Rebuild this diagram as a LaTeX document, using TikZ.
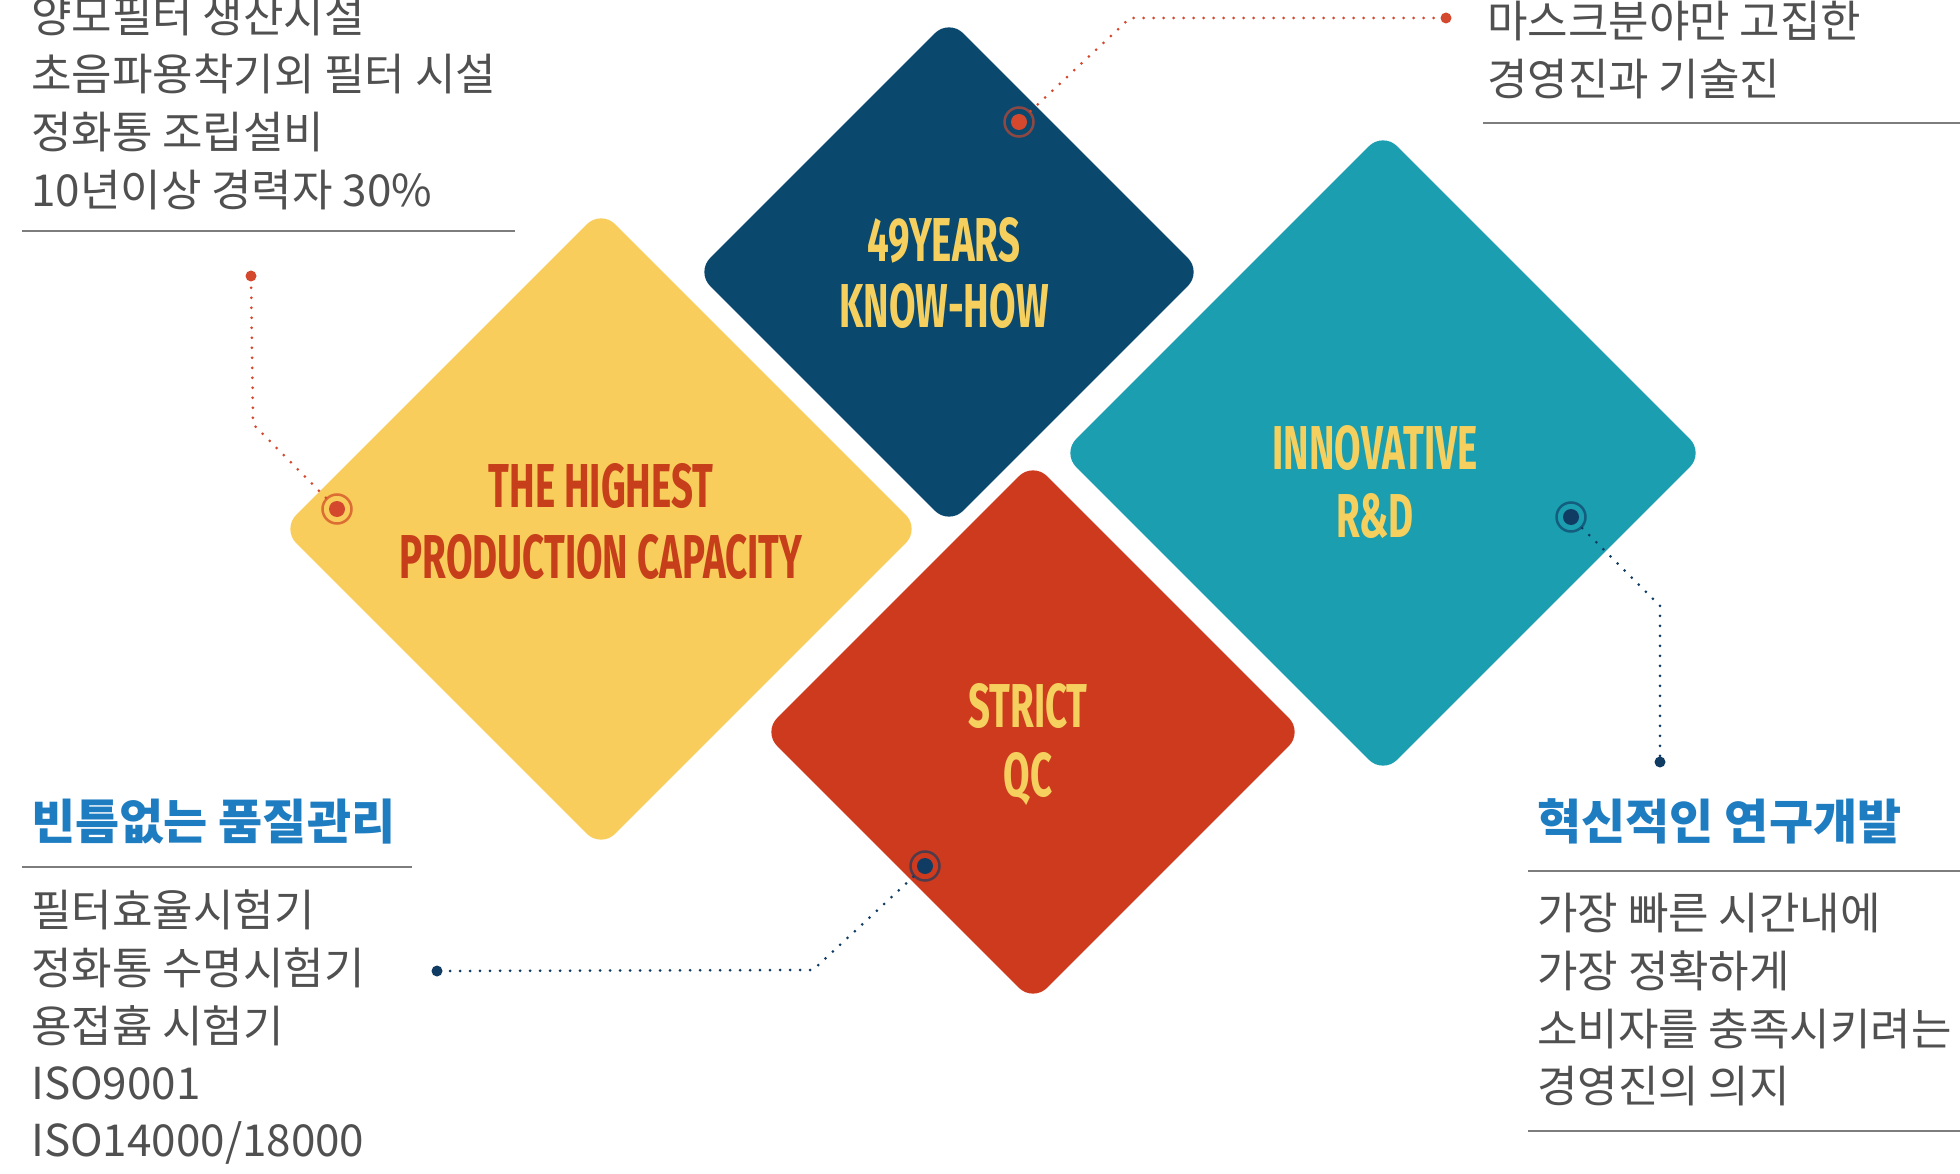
\documentclass[tikz,border=0pt]{standalone}
\usepackage{fontspec}
\usetikzlibrary{shapes.geometric}
\newfontfamily\kr{Noto Sans CJK KR}
\newfontfamily\disp[FakeStretch=0.62]{Fira Sans}
\definecolor{navy}{RGB}{11,72,110}
\definecolor{sun}{RGB}{248,205,92}
\definecolor{teal}{RGB}{27,158,176}
\definecolor{brick}{RGB}{205,58,30}
\definecolor{gold}{RGB}{245,208,95}
\definecolor{rust}{RGB}{198,62,26}
\definecolor{bodygray}{RGB}{80,80,80}
\definecolor{rulegray}{RGB}{125,125,125}
\definecolor{headblue}{RGB}{30,124,193}
\definecolor{dotred}{RGB}{212,72,45}
\definecolor{dotnavy}{RGB}{16,60,100}
\begin{document}
\begin{tikzpicture}[x=1pt,y=-1pt,
  dia/.style={diamond, aspect=1, inner sep=0pt, rounded corners=20pt, fill=#1, minimum width=\dsz, minimum height=\dsz},
  body/.style={anchor=base west, inner sep=0pt, font=\kr\fontsize{44}{52}\selectfont, text=bodygray},
  head/.style={anchor=base west, inner sep=0pt, font=\kr\bfseries\fontsize{48}{56}\selectfont, text=headblue},
  dlabel/.style={anchor=base, inner sep=0pt, font=\disp\bfseries\fontsize{62}{67}\selectfont, text=#1},
  rulestyle/.style={draw=rulegray, line width=2.5pt},
  conn/.style={draw=#1, line width=3pt, dash pattern=on 0pt off 10pt, line cap=round},
  ring/.style={circle, inner sep=0pt, minimum size=29pt, draw=#1, draw opacity=0.65, line width=2.5pt},
  core/.style={circle, inner sep=0pt, minimum size=16pt, fill=#1},
  tip/.style={circle, inner sep=0pt, minimum size=11pt, fill=#1}
]
\useasboundingbox (0,0) rectangle (1960,1174);
\fill[white] (0,0) rectangle (1960,1174);

% diamonds
\def\dsz{506pt}
\node[dia=navy] (know) at (949,272) {};
\def\dsz{638pt}
\node[dia=sun] (prod) at (601,529) {};
\def\dsz{642pt}
\node[dia=teal] (innov) at (1383,453) {};
\def\dsz{540pt}
\node[dia=brick] (qc) at (1033,732) {};

% diamond labels
\node[dlabel=gold] (know1) at (944,261.5) {49YEARS};
\node[dlabel=gold] (know2) at (944,327.5) {KNOW-HOW};
\node[dlabel=rust] (prod1) at (601,507) {THE HIGHEST};
\node[dlabel=rust] (prod2) at (601,578) {PRODUCTION CAPACITY};
\node[dlabel=gold] (innov1) at (1375,469.5) {INNOVATIVE};
\node[dlabel=gold] (innov2) at (1375,537.5) {R\&D};
\node[dlabel=gold] (qc1) at (1028,727.5) {STRICT};
\node[dlabel=gold] (qc2) at (1028,796.5) {QC};

% top-left text
\node[body] (tl1) at (31,33) {양모필터 생산시설};
\node[body] (tl2) at (31,91) {초음파용착기외 필터 시설};
\node[body] (tl3) at (31,149) {정화통 조립설비};
\node[body] (tl4) at (31,207) {10년이상 경력자 30\%};
\draw[rulestyle] (22,231) -- (515,231);

% top-right text
\node[body] (tr1) at (1487,38) {마스크분야만 고집한};
\node[body] (tr2) at (1487,96) {경영진과 기술진};
\draw[rulestyle] (1483,123) -- (1960,123);

% bottom-left
\node[head] (blh) at (31,839) {빈틈없는 품질관리};
\draw[rulestyle] (22,867) -- (412,867);
\node[body] (bl1) at (31,926) {필터효율시험기};
\node[body] (bl2) at (31,984) {정화통 수명시험기};
\node[body] (bl3) at (31,1042) {용접흄 시험기};
\node[body] (bl4) at (31,1099) {ISO9001};
\node[body] (bl5) at (31,1156) {ISO14000/18000};

% bottom-right
\node[head] (brh) at (1537,839) {혁신적인 연구개발};
\draw[rulestyle] (1528,871) -- (1960,871);
\node[body] (br1) at (1537,929) {가장 빠른 시간내에};
\node[body] (br2) at (1537,987) {가장 정확하게};
\node[body] (br3) at (1537,1045) {소비자를 충족시키려는};
\node[body] (br4) at (1537,1102) {경영진의 의지};
\draw[rulestyle] (1528,1131) -- (1960,1131);

% connector 1: know-how -> top right
\node[ring=dotred] (r1) at (1019,122) {};
\node[core=dotred] (c1) at (1019,122) {};
\coordinate (k1) at (1130,18);
\node[tip=dotred] (e1) at (1446,18) {};
\draw[conn=dotred] (r1) -- (k1) -- (e1);

% connector 2: production -> top left
\node[ring=brick] (r2) at (337,509) {};
\node[core=dotred] (c2) at (337,509) {};
\coordinate (k2) at (253,424);
\node[tip=dotred] (e2) at (251,276) {};
\draw[conn=dotred] (r2) -- (k2) -- (e2);

% connector 3: qc -> bottom left
\node[ring=dotnavy] (r3) at (925,866) {};
\node[core=dotnavy] (c3) at (925,866) {};
\coordinate (k3) at (813,970);
\node[tip=dotnavy] (e3) at (437,971) {};
\draw[conn=dotnavy] (r3) -- (k3) -- (e3);

% connector 4: innovative -> bottom right
\node[ring=dotnavy] (r4) at (1571,517) {};
\node[core=dotnavy] (c4) at (1571,517) {};
\coordinate (k4) at (1660,606);
\node[tip=dotnavy] (e4) at (1660,762) {};
\draw[conn=dotnavy] (r4) -- (k4) -- (e4);
\end{tikzpicture}
\end{document}
